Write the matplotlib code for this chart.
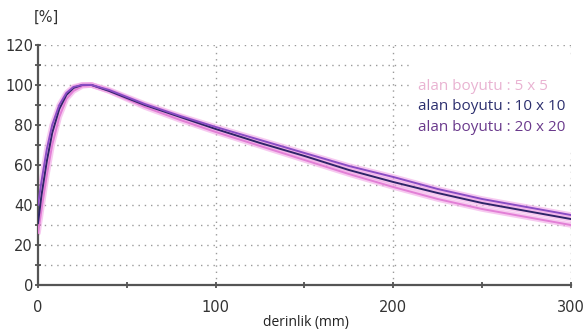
import numpy as np
import matplotlib.pyplot as plt
from matplotlib.patches import Rectangle

# derinlik (mm) ve yuzde doz degerleri
depth = [0, 2, 5, 8, 12, 16, 20, 25, 30, 40, 50, 60, 80, 100, 125, 150, 175, 200, 225, 250, 275, 300]
pdd_5 = [26, 38, 55, 70, 84, 93, 97, 99.5, 100, 97, 93, 89, 82.5, 76.5, 69.5, 62.5, 55.5, 49, 43, 38, 34, 30]
pdd_10 = [31, 45, 62, 76, 88, 95, 98.5, 100, 100, 97, 93.5, 90, 84, 78, 71, 64.5, 57.5, 51.5, 46, 41, 37, 33]
pdd_20 = [40, 52, 68, 80, 90, 96, 99, 100, 100, 97.5, 94, 90.5, 84.5, 79, 72.5, 66, 59.5, 54, 48, 43, 39, 35]

labels = ['alan boyutu : 5 x 5', 'alan boyutu : 10 x 10', 'alan boyutu : 20 x 20']
colors = ['#e27fd6', '#2e2468', '#8a4cc4']
text_colors = ['#e9b3d2', '#2c2f6e', '#6a3a8c']

fig = plt.figure(figsize=(5.87, 3.35), dpi=100)
ax = fig.add_axes([0.0647, 0.149, 0.908, 0.717])

# izgara
for yv in range(10, 121, 10):
    ax.plot([0, 300], [yv, yv], color='#9a9a9a', lw=1.0, ls=(0, (1, 3.5)), zorder=1)
for xv in [100, 200, 300]:
    ax.plot([xv, xv], [0, 120], color='#9a9a9a', lw=1.0, ls=(0, (1, 3.5)), zorder=1)

for y, c in zip([pdd_5, pdd_10, pdd_20], colors):
    ax.plot(depth, y, color='#f2a6e6', lw=4, alpha=0.6, solid_capstyle='round', zorder=2)
    ax.plot(depth, y, color=c, lw=1.4, zorder=3)

# legend kutusu (beyaz zemin)
ax.add_patch(Rectangle((211, 68), 95, 47, facecolor='white', edgecolor='none',
                       zorder=4, clip_on=False))
for i, (lab, tc) in enumerate(zip(labels, text_colors)):
    ax.text(0.713, 0.825 - i * 0.0835, lab, color=tc, fontsize=11, family='Open Sans',
            transform=ax.transAxes, va='center', ha='left', zorder=5)

ax.set_xlim(0, 300)
ax.set_ylim(0, 120)
ax.set_xticks([0, 50, 100, 150, 200, 250, 300])
ax.set_xticklabels(['0', '', '100', '', '200', '', '300'])
ax.set_yticks(range(0, 121, 10))
ax.set_yticklabels([str(v) if v % 20 == 0 else '' for v in range(0, 121, 10)])
ax.tick_params(direction='inout', length=5, width=1.2, colors='#444444', labelsize=10.5,
               labelcolor='#333333')
ax.tick_params(axis='x', pad=8)
ax.tick_params(axis='y', pad=1)
ax.spines['top'].set_visible(False)
ax.spines['right'].set_visible(False)
ax.spines['left'].set_color('#555555')
ax.spines['bottom'].set_color('#555555')
ax.spines['left'].set_linewidth(1.6)
ax.spines['bottom'].set_linewidth(1.6)

fig.text(0.521, 0.028, 'derinlik (mm)', fontsize=10, family='Open Sans', ha='center', color='#222222')
fig.text(0.058, 0.935, '[%]', fontsize=10.5, ha='left', color='#333333')

fig.savefig('out.png', dpi=100)
